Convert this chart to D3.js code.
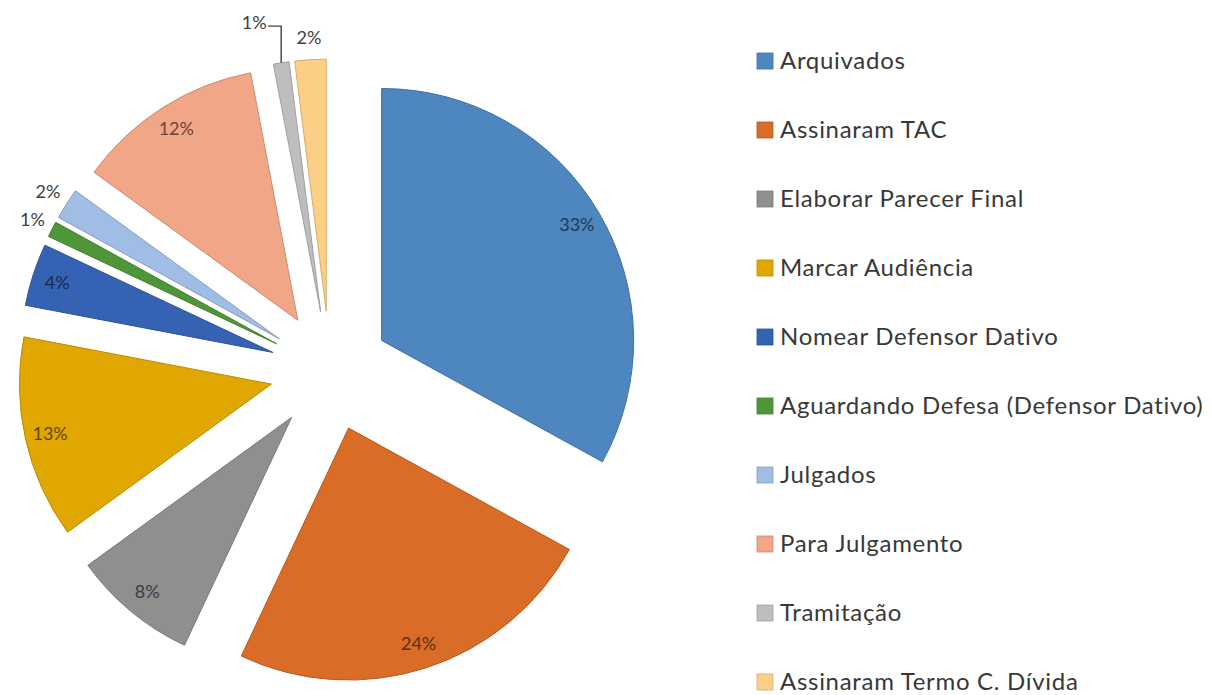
<!DOCTYPE html>
<html>
<head>
<meta charset="utf-8">
<script src="https://cdn.jsdelivr.net/npm/d3@7"></script>
<style>
  body { margin: 0; background: #fff; }
  svg { display: block; }
</style>
</head>
<body>
<main></main>
<script>
// chart data
const categories = [
  'Arquivados',
  'Assinaram TAC',
  'Elaborar Parecer Final',
  'Marcar Audiência',
  'Nomear Defensor Dativo',
  'Aguardando Defesa (Defensor Dativo)',
  'Julgados',
  'Para Julgamento',
  'Tramitação',
  'Assinaram Termo C. Dívida'
];
const values = [33, 24, 8, 13, 4, 1, 2, 12, 1, 2];
const colors = [
  '#4e86bf', '#d96c27', '#8f8f8f', '#e0a700', '#3562b3',
  '#4f9638', '#a0bde5', '#f1a688', '#bebebe', '#fccf86'
];

const WIDTH = 1212, HEIGHT = 695;
const CX = 330, CY = 371, R = 252, EXPLODE = 60;

const svg = d3.select('main')
  .append('svg')
  .attr('width', WIDTH)
  .attr('height', HEIGHT);

const color = d3.scaleOrdinal().domain(categories).range(colors);
const total = d3.sum(values);
const pct = d3.format('.0%');

const data = categories.map((name, i) => ({ name, value: values[i] }));
const pie = d3.pie().sort(null).value(d => d.value);
const arcs = pie(data);
const arc = d3.arc().innerRadius(0).outerRadius(R);

// offset of each exploded slice along its bisector
const mid = d => (d.startAngle + d.endAngle) / 2;
const tipX = d => CX + EXPLODE * Math.sin(mid(d));
const tipY = d => CY - EXPLODE * Math.cos(mid(d));

const pane = svg.append('g').attr('class', 'pie');

pane.selectAll('path')
  .data(arcs)
  .enter()
  .append('path')
  .attr('transform', d => `translate(${tipX(d)},${tipY(d)})`)
  .attr('d', arc)
  .attr('fill', d => color(d.data.name))
  .attr('stroke', d => d3.color(color(d.data.name)).darker(0.5))
  .attr('stroke-width', 1);

// percentage labels: inside for big slices, outside for the small ones
const labels = arcs.map(d => {
  const a = mid(d);
  const inside = d.data.value / total > 0.03;
  const rr = inside ? R * 0.9 : R + 22;
  return {
    d, inside,
    x: tipX(d) + rr * Math.sin(a),
    y: tipY(d) - rr * Math.cos(a),
    text: pct(d.data.value / total)
  };
});

// nudge an outside label that runs into its neighbour and give it a leader line
for (let i = 0; i < labels.length - 1; i++) {
  const a = labels[i], b = labels[i + 1];
  if (a.inside || b.inside) continue;
  if (Math.abs(a.x - b.x) < 36 && Math.abs(a.y - b.y) < 20) {
    const m = mid(a.d);
    const ax = tipX(a.d) + R * Math.sin(m);
    const ay = tipY(a.d) - R * Math.cos(m);
    a.x = ax - 27;
    a.y = a.y - 18;
    a.leader = [[a.x + 14, a.y + 3], [ax, a.y + 3], [ax, ay]];
  }
}

pane.selectAll('path.leader')
  .data(labels.filter(l => l.leader))
  .enter()
  .append('path')
  .attr('class', 'leader')
  .attr('d', l => d3.line()(l.leader))
  .attr('fill', 'none')
  .attr('stroke', '#404040')
  .attr('stroke-width', 1.4);

pane.selectAll('text')
  .data(labels)
  .enter()
  .append('text')
  .attr('x', l => l.x)
  .attr('y', l => l.y)
  .attr('dy', '0.35em')
  .attr('text-anchor', 'middle')
  .attr('font-family', 'Lato, "Noto Sans", sans-serif')
  .attr('font-size', 18)
  .attr('fill', l => l.inside ? d3.color(color(l.d.data.name)).darker(2.4) : '#404040')
  .text(l => l.text);

// legend
const legendY = d3.scalePoint().domain(categories).range([61, 682]);

const legend = svg.append('g')
  .attr('class', 'legend')
  .selectAll('g')
  .data(categories)
  .enter()
  .append('g')
  .attr('transform', d => `translate(757,${legendY(d)})`);

legend.append('rect')
  .attr('x', 0)
  .attr('y', -8)
  .attr('width', 16)
  .attr('height', 16)
  .attr('fill', d => color(d))
  .attr('stroke', d => d3.color(color(d)).darker(0.5))
  .attr('stroke-width', 0.8);

legend.append('text')
  .attr('x', 23)
  .attr('y', 0)
  .attr('dy', '0.35em')
  .attr('font-family', 'Lato, "Noto Sans", sans-serif')
  .attr('font-size', 24)
  .attr('letter-spacing', 0.7)
  .attr('fill', '#383838')
  .text(d => d);
</script>
</body>
</html>
